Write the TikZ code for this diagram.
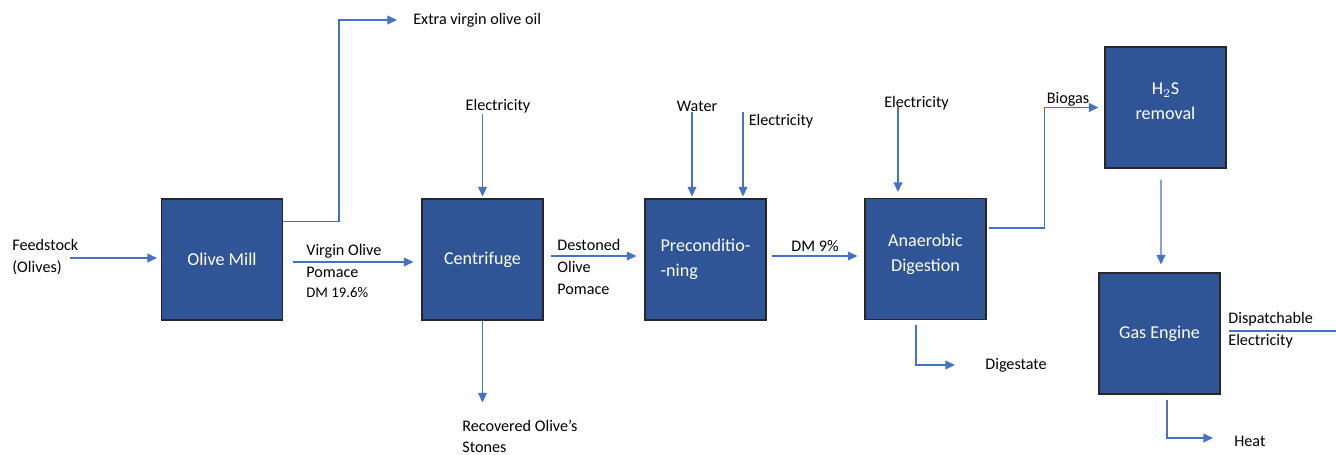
\documentclass[tikz,border=0pt]{standalone}
\usepackage{fontspec}
\setmainfont{Carlito}
\usetikzlibrary{arrows.meta,calc}
\definecolor{boxblue}{RGB}{47,85,151}
\definecolor{flowblue}{RGB}{68,114,196}

\begin{document}
\begin{tikzpicture}[x=0.02cm,y=-0.02cm,
    unit/.style={draw=black!85,line width=0.6pt,fill=boxblue,text=white,inner sep=0pt,
        minimum width=2.42cm,minimum height=2.42cm,align=center,
        font=\fontsize{10.3}{14.2}\selectfont},
    lbl/.style={inner sep=0pt,align=left,font=\fontsize{9.2}{12.5}\selectfont},
    flow/.style={draw=flowblue,line width=0.75pt,-{Triangle[length=5.5pt,width=5pt]}}]
    \useasboundingbox (0,0) rectangle (1336,454);

    % process units
    \node[unit] (mill) at (222,259.5) {Olive Mill};
    \node[unit] (cent) at (482.5,259.5) {Centrifuge};
    \node[unit,align=left] (pre) at (705.5,259.5) {Preconditio-\\-ning};
    \node[unit] (ad) at (925.5,259) {Anaerobic\\Digestion\\[-6.8pt]};
    \node[unit] (h2s) at (1165.5,107.5) {H$_2$S\\removal\\[-6.8pt]};
    \node[unit] (gas) at (1159.5,333.5) {Gas Engine};

    % streams
    \node[lbl,anchor=west] (feed) at (12,257) {Feedstock\\(Olives)};
    \node[lbl,anchor=west] (vop) at (306,260.5) {Virgin Olive\\Pomace};
    \node[lbl,anchor=west,font=\fontsize{8.4}{10}\selectfont] (dm1) at (306,293) {DM 19.6\%};
    \node[lbl,anchor=west] (oil) at (413,20) {Extra virgin olive oil};
    \node[lbl] (el1) at (498,106) {Electricity};
    \node[lbl,anchor=west,font=\fontsize{9.2}{12}\selectfont] (stones) at (462,436) {Recovered Olive’s\\Stones};
    \node[lbl,anchor=west] (dop) at (557,267) {Destoned\\Olive\\Pomace};
    \node[lbl] (water) at (697,106) {Water};
    \node[lbl] (el2) at (781,121) {Electricity};
    \node[lbl] (dm2) at (815,246) {DM 9\%};
    \node[lbl] (el3) at (916.5,103) {Electricity};
    \node[lbl,anchor=west] (dig) at (985,365) {Digestate};
    \node[lbl] (biogas) at (1068,99) {Biogas};
    \node[lbl,anchor=west] (disp) at (1228,330) {Dispatchable\\Electricity};
    \node[lbl,anchor=west] (heat) at (1234,441) {Heat};

    \draw[flow] ($(mill.west)+(-91,-1.5)$) -- ($(mill.west)+(-4,-1.5)$);
    \draw[flow] ($(mill.north east)+(0,23)$) -- ++(56,0) |- ($(oil.west)+(-16,0)$);
    \draw[flow] ($(mill.east)+(10,2.5)$) -- ($(cent.west)+(-8,2.5)$);
    \draw[flow] ($(cent.north)+(0,-84)$) -- ($(cent.north)+(0,-2)$);
    \draw[flow] ($(cent.south)+(0,0.5)$) -- ($(cent.south)+(0,82)$);
    \draw[flow] ($(cent.east)+(7,-3.5)$) -- ($(pre.west)+(-8,-3.5)$);
    \draw[flow] ($(pre.north)+(-13.5,-86)$) -- ($(pre.north)+(-13.5,-2)$);
    \draw[flow] ($(pre.north)+(37.5,-86)$) -- ($(pre.north)+(37.5,-2)$);
    \draw[flow] ($(pre.east)+(5,-3.5)$) -- ($(ad.west)+(-7,-3)$);
    \draw[flow] ($(ad.north)+(-27.5,-91)$) -- ($(ad.north)+(-27.5,-6)$);
    \draw[flow] ($(ad.south)+(-9.5,5)$) |- ($(dig.west)+(-30,0)$);
    \draw[flow] ($(ad.east)+(2,-31)$) -- ++(56,0) |- ($(h2s.west)+(-6,0)$);
    \draw[flow] ($(h2s.south)+(-4.5,11)$) -- ($(gas.north)+(1.5,-8)$);
    \draw[flow] ($(gas.east)+(8,-2.5)$) -- ++(120,0);
    \draw[flow] ($(gas.south)+(7.5,5)$) |- ($(heat.west)+(-21,-3)$);
\end{tikzpicture}
\end{document}
